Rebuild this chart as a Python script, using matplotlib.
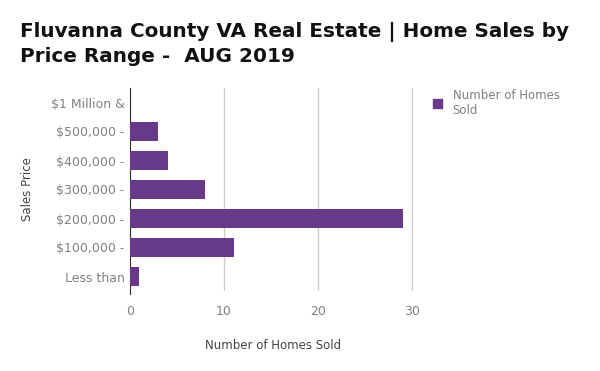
import matplotlib.pyplot as plt
from matplotlib.patches import Patch

# ---------------------------------------------------------
# DATA
# ---------------------------------------------------------

price_ranges = ["$1 Million &", "$500,000 -", "$400,000 -", "$300,000 -",
                "$200,000 -", "$100,000 -", "Less than"]
homes_sold = [0, 3, 4, 8, 29, 11, 1]
x_ticks = [0, 10, 20, 30]

bar_color = "#663a88"
label_gray = "#808080"

# ---------------------------------------------------------
# PLOT
# ---------------------------------------------------------

fig = plt.figure(figsize=(6, 3.71), dpi=100)
ax = fig.add_axes([130 / 600, 1 - 291 / 371, 287 / 600, 203 / 371])

ypos = list(range(len(price_ranges)))[::-1]
ax.barh(ypos, homes_sold, height=0.65, color=bar_color, zorder=3)

ax.set_xlim(0, 30.5)
ax.set_ylim(-0.5, len(price_ranges) - 0.5)
ax.set_yticks(ypos)
ax.set_yticklabels(price_ranges, color=label_gray, fontsize=9)
ax.set_xticks(x_ticks)
ax.set_xticklabels([str(t) for t in x_ticks], color=label_gray, fontsize=9)
ax.tick_params(axis="y", length=0, pad=4)
ax.tick_params(axis="x", length=0, pad=10)

ax.grid(axis="x", color="#cccccc", linewidth=1, zorder=0)
ax.set_axisbelow(True)
for side in ["top", "right", "bottom"]:
    ax.spines[side].set_visible(False)
ax.spines["left"].set_color("#333333")
ax.spines["left"].set_bounds(-0.6, 6.5)

ax.set_xlabel("Number of Homes Sold", fontsize=8.5, color="#444444", labelpad=15)
ax.set_ylabel("Sales Price", fontsize=8.5, color="#444444", labelpad=12)

fig.text(20 / 600, 1 - 22 / 371,
         "Fluvanna County VA Real Estate | Home Sales by\nPrice Range -  AUG 2019",
         fontsize=14.4, fontweight="bold", color="#111111", va="top",
         linespacing=1.3)

fig.legend(handles=[Patch(color=bar_color)], labels=["Number of Homes\nSold"],
           loc="upper left", bbox_to_anchor=(422 / 600, 1 - 78 / 371),
           frameon=False, fontsize=8.5, labelcolor=label_gray,
           handlelength=0.8, handleheight=0.8, handletextpad=0.9)

fig.savefig("out.png", dpi=100)
